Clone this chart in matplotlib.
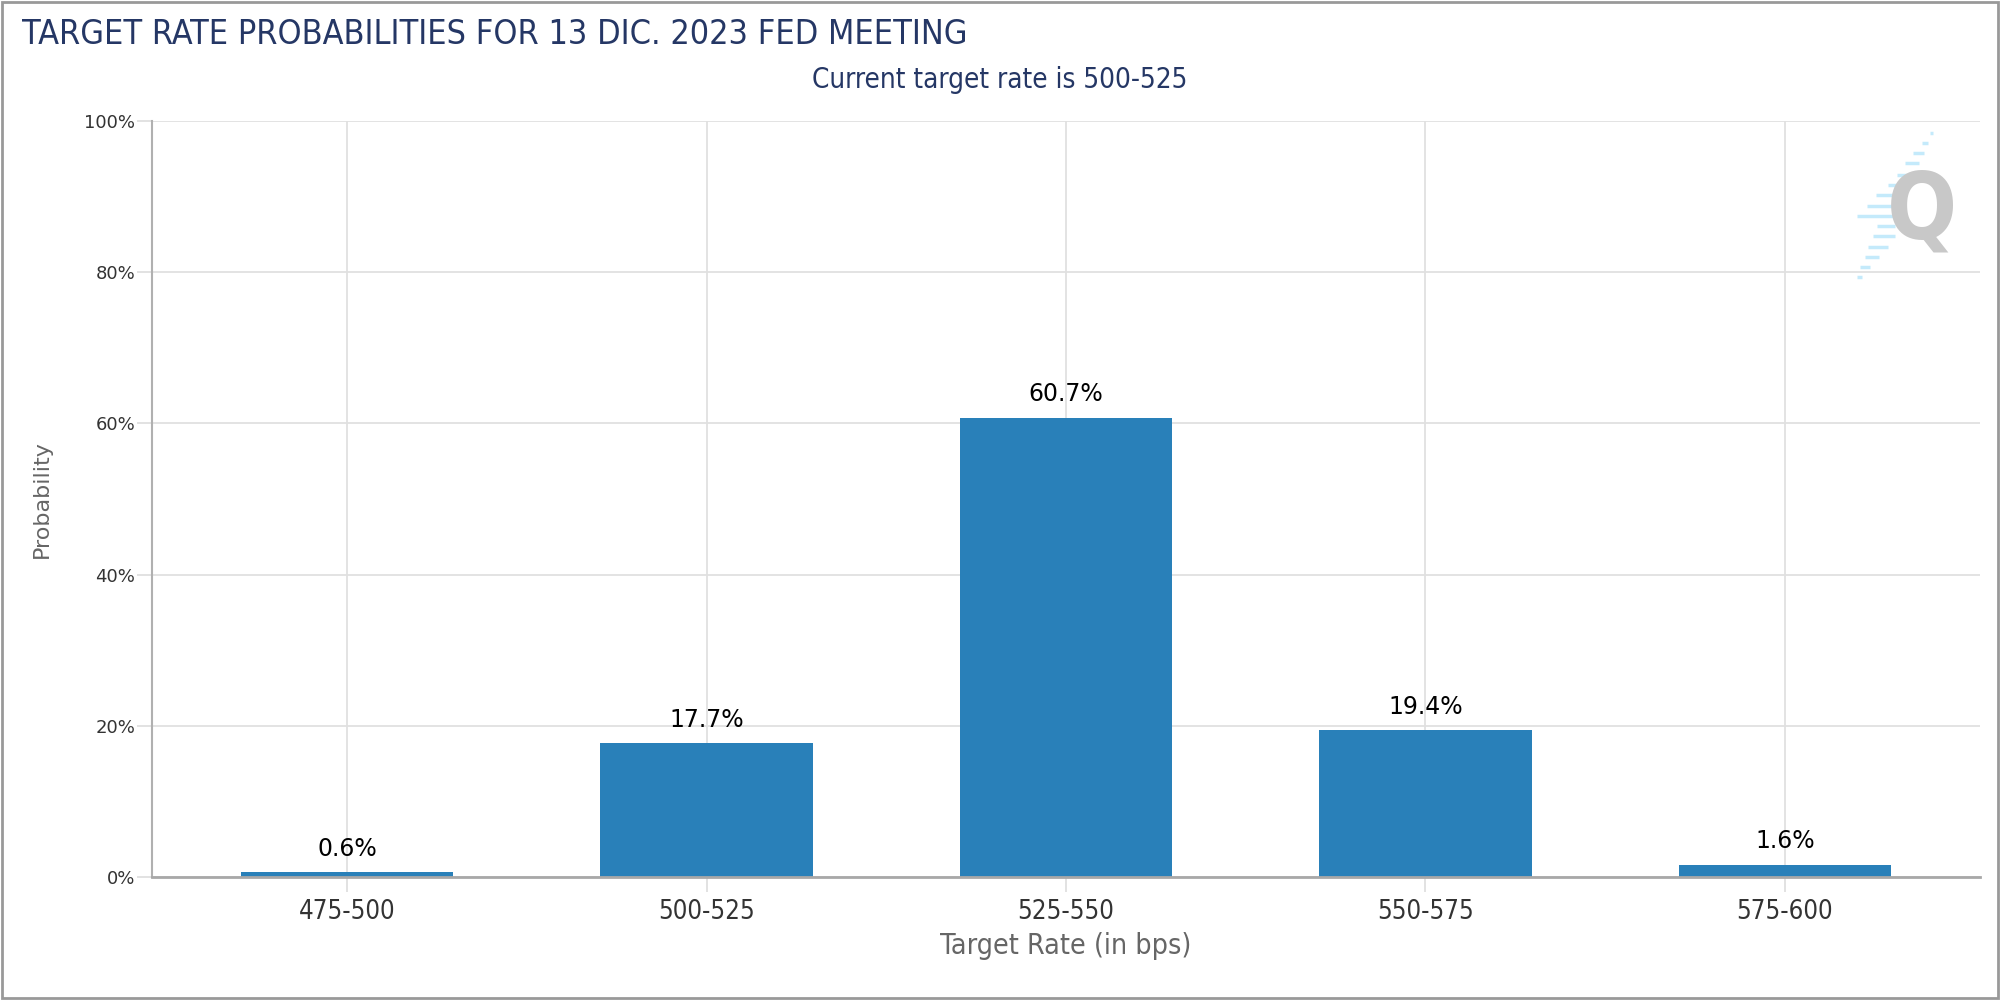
import matplotlib
matplotlib.use("Agg")
import matplotlib.pyplot as plt
from matplotlib.patches import Rectangle
from matplotlib.lines import Line2D

# Datos
categorias = ["475-500", "500-525", "525-550", "550-575", "575-600"]
probabilidades = [0.6, 17.7, 60.7, 19.4, 1.6]
yticks = [0, 20, 40, 60, 80, 100]
ytick_labels = ["0%", "20%", "40%", "60%", "80%", "100%"]

titulo = "TARGET RATE PROBABILITIES FOR 13 DIC. 2023 FED MEETING"
subtitulo = "Current target rate is 500-525"

azul = "#2980b9"
navy = "#253765"
cond = dict(family="DejaVu Sans", fontstretch="condensed")

fig = plt.figure(figsize=(20, 10), dpi=100)
ax = fig.add_axes([0.076, 0.123, 0.914, 0.756])

x = list(range(len(categorias)))
ax.bar(x, probabilidades, width=0.59, color=azul, zorder=2)

for i, v in enumerate(probabilidades):
    ax.annotate(f"{v}%", (i, v), xytext=(0, 12), textcoords="offset points",
                ha="center", va="baseline", fontsize=17, color="black")

ax.set_xlim(-0.5425, len(categorias) - 1 + 0.5425)
ax.set_ylim(0, 100)
ax.set_xticks(x)
ax.set_xticklabels(categorias, fontsize=18.5, color="#333333", **cond)
ax.set_yticks(yticks)
ax.set_yticklabels(ytick_labels, fontsize=13, color="#333333")
ax.tick_params(axis="x", length=11, width=1.2, color="#dddddd", pad=5)
ax.tick_params(axis="y", length=11, width=1.2, color="#dddddd", pad=1)

ax.grid(True, color="#e0e0e0", linewidth=1.3)
ax.set_axisbelow(True)
for s in ["top", "right"]:
    ax.spines[s].set_visible(False)
ax.spines["left"].set_color("#b0b0b0")
ax.spines["left"].set_linewidth(1.5)
ax.spines["bottom"].set_color("#a8a8a8")
ax.spines["bottom"].set_linewidth(2)

# Titulos
fig.text(0.011, 0.956, titulo, fontsize=24.5, color=navy, va="baseline", **cond)
fig.text(0.5, 0.92, subtitulo, fontsize=20, color=navy, ha="center", va="center", **cond)
fig.text(0.021, 0.501, "Probability", rotation=90, fontsize=16, color="#666666",
         ha="center", va="center")
fig.text(0.533, 0.054, "Target Rate (in bps)", fontsize=20.5, color="#666666",
         ha="center", va="center", **cond)

# Logo (marca de agua): franjas (y, x inicio, x fin) en pixeles de la figura
franjas = [(133, 1930, 1933), (143, 1922, 1928), (153, 1913, 1924), (163, 1905, 1919),
           (175, 1897, 1915), (185, 1888, 1905), (195, 1876, 1900), (206, 1867, 1900),
           (216, 1857, 1900), (226, 1877, 1895), (236, 1873, 1895), (247, 1868, 1888),
           (257, 1865, 1879), (267, 1860, 1870), (277, 1857, 1862)]
for yy, x0, x1 in franjas:
    fig.lines.append(Line2D([x0 / 2000, x1 / 2000], [1 - yy / 1000, 1 - yy / 1000],
                            transform=fig.transFigure, color="#c4eafb",
                            linewidth=2.5, solid_capstyle="butt"))
fig.text(0.961, 0.787, "Q", fontsize=66, fontweight="bold", color="#c8c8c8",
         ha="center", va="center", **cond)

# Borde exterior
fig.patches.append(Rectangle((0.0008, 0.0025), 0.998, 0.996, transform=fig.transFigure,
                             fill=False, edgecolor="#999999", linewidth=2))

fig.savefig("out.png", dpi=100)
